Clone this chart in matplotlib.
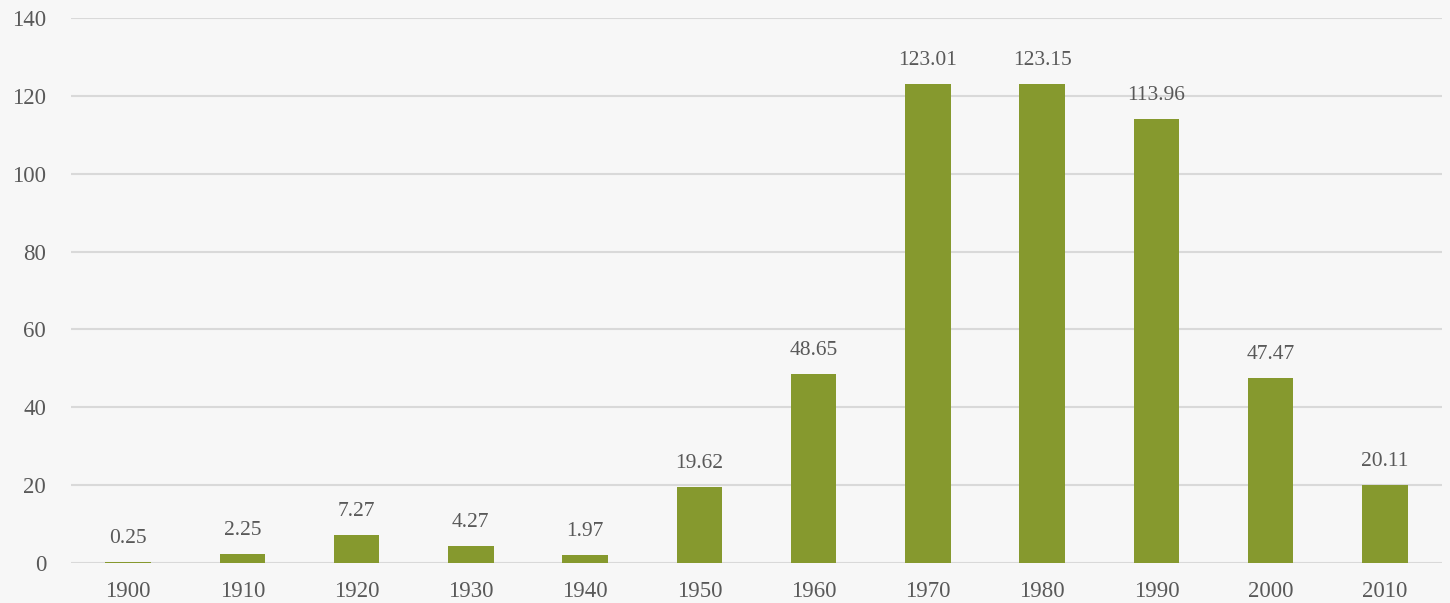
import matplotlib
matplotlib.use("Agg")
import matplotlib.pyplot as plt

years = ["1900", "1910", "1920", "1930", "1940", "1950", "1960", "1970", "1980", "1990", "2000", "2010"]
values = [0.25, 2.25, 7.27, 4.27, 1.97, 19.62, 48.65, 123.01, 123.15, 113.96, 47.47, 20.11]
yticks = [0, 20, 40, 60, 80, 100, 120, 140]

plt.rcParams['font.family'] = ['Liberation Serif', 'DejaVu Serif']
txt = '#595959'
bg = '#F7F7F7'

fig = plt.figure(figsize=(14.5, 6.03), dpi=100, facecolor=bg)
ax = fig.add_axes([71/1450, 40/603, (1442-71)/1450, (563-18)/603], facecolor=bg)

x = list(range(len(years)))
ax.bar(x, values, width=0.40, color='#86992E', zorder=3)
for xi, v in zip(x, values):
    ax.annotate(f"{v:.2f}", (xi, v), xytext=(0, 10), textcoords='offset points',
                ha='center', va='bottom', fontsize=15.5, color=txt, zorder=4)

ax.set_xlim(-0.5, len(years) - 0.5)
ax.set_ylim(0, 140)
ax.set_yticks(yticks)
ax.set_yticklabels([str(t) for t in yticks])
ax.set_xticks(x)
ax.set_xticklabels(years)
ax.yaxis.grid(True, color='#D9D9D9', linewidth=1.5, zorder=0)
ax.tick_params(axis='both', length=0, labelsize=16.5, colors=txt)
ax.tick_params(axis='y', pad=18)
ax.tick_params(axis='x', pad=13)
for s in ax.spines.values():
    s.set_visible(False)

fig.savefig("out.png", dpi=100, facecolor=bg)
